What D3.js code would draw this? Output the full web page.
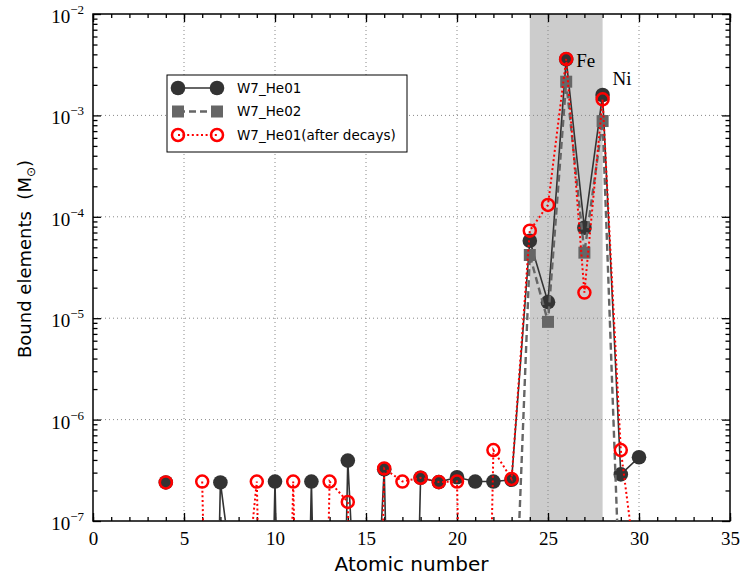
<!DOCTYPE html>
<html><head><meta charset="utf-8">
<script src="https://cdn.jsdelivr.net/npm/d3@7"></script>
<style>body{margin:0;background:#fff;} svg{display:block;}</style>
</head><body><svg id="chart" width="743" height="580"></svg>
<script>
// ---------------- data ----------------
const atomicNumbers = [4,5,6,7,8,9,10,11,12,13,14,15,16,17,18,19,20,21,22,23,24,25,26,27,28,29,30];
// W7_He01 (values far below 1e-7 are off-chart, null = no value)
const he01 = [2.4e-7, null, 1e-15, 2.4e-7, 1e-8, 1e-15, 2.45e-7, 1e-15, 2.45e-7, 1e-15, 3.94e-7, 1e-10, 3.24e-7, 1e-14,
              2.67e-7, 2.42e-7, 2.7e-7, 2.45e-7, 2.45e-7, 2.55e-7, 5.8e-5, 1.44e-5, 3.57e-3, 7.8e-5, 1.59e-3, 2.88e-7, 4.25e-7];
// W7_He02
const he02 = [null, null, null, null, null, null, null, null, null, null, null, null, null, null,
              null, null, null, null, null, 1.2e-9, 4.2e-5, 9.2e-6, 2.15e-3, 4.43e-5, 8.8e-4, 1e-8, null];
// W7_He01 (after decays)
const he01Decayed = [2.4e-7, null, 2.45e-7, 1e-15, 4e-9, 2.45e-7, 1e-15, 2.45e-7, 1e-15, 2.45e-7, 1.54e-7, 1e-15, 3.3e-7, 2.45e-7,
              2.67e-7, 2.42e-7, 2.45e-7, 1e-15, 5.0e-7, 2.6e-7, 7.3e-5, 1.31e-4, 3.6e-3, 1.79e-5, 1.44e-3, 5.0e-7, 2e-8];
const seriesNames = ["W7_He01", "W7_He02", "W7_He01(after decays)"];
const xTicks = [0,5,10,15,20,25,30,35];
const yExponents = [-7,-6,-5,-4,-3,-2];
const bandRange = [24, 28];
const peakLabels = ["Fe", "Ni"];
const peakZ = [26, 28];

// ---------------- layout ----------------
const svg = d3.select("#chart");
const L = 93, R = 730, T = 14, B = 521;
const x = d3.scaleLinear().domain([0, 35]).range([L, R]);
const y = d3.scaleLog().domain([1e-7, 1e-2]).range([B, T]);
const serif = "'Liberation Serif','DejaVu Serif',serif";
const sans = "'DejaVu Sans',sans-serif";

svg.append("defs").append("clipPath").attr("id", "clip")
  .append("rect").attr("x", L).attr("y", T).attr("width", R - L).attr("height", B - T);

// shaded band
svg.append("rect").attr("x", x(bandRange[0])).attr("y", T)
  .attr("width", x(bandRange[1]) - x(bandRange[0])).attr("height", B - T)
  .attr("fill", "#cccccc");

// grid
const grid = svg.append("g").attr("stroke", "#888").attr("stroke-width", 1).attr("stroke-dasharray", "1,3");
xTicks.filter(d => d > 0 && d < 35).forEach(d => {
  grid.append("line").attr("x1", x(d)).attr("x2", x(d)).attr("y1", T).attr("y2", B);
});
yExponents.filter(e => e > -7 && e < -2).forEach(e => {
  grid.append("line").attr("x1", L).attr("x2", R).attr("y1", y(Math.pow(10, e))).attr("y2", y(Math.pow(10, e)));
});

// axes ticks (inward, all four sides)
const minorX = d3.range(0, 36);
const decadeMinor = [];
yExponents.slice(0, -1).forEach(e => { for (let k = 2; k <= 9; k++) decadeMinor.push(k * Math.pow(10, e)); });
const majorY = yExponents.map(e => Math.pow(10, e));

function tickAxis(axisFn, scale, vals, size, transform) {
  const g = svg.append("g").attr("transform", transform)
    .call(axisFn(scale).tickValues(vals).tickSize(size).tickFormat(""));
  g.select(".domain").remove();
  g.selectAll(".tick line").attr("stroke", "#000").attr("stroke-width", 1.3);
  return g;
}
tickAxis(d3.axisBottom, x, minorX, -4, `translate(0,${B})`);
tickAxis(d3.axisBottom, x, xTicks, -8, `translate(0,${B})`);
tickAxis(d3.axisTop, x, minorX, -4, `translate(0,${T})`);
tickAxis(d3.axisTop, x, xTicks, -8, `translate(0,${T})`);
tickAxis(d3.axisLeft, y, decadeMinor, -4.5, `translate(${L},0)`);
tickAxis(d3.axisLeft, y, majorY, -8, `translate(${L},0)`);
tickAxis(d3.axisRight, y, decadeMinor, -4.5, `translate(${R},0)`);
tickAxis(d3.axisRight, y, majorY, -8, `translate(${R},0)`);

// x tick labels
const xl = svg.append("g").attr("transform", `translate(0,${B})`)
  .call(d3.axisBottom(x).tickValues(xTicks).tickSize(0).tickPadding(11).tickFormat(d => d));
xl.select(".domain").remove();
xl.selectAll("text").attr("font-family", serif).attr("font-size", 19).attr("fill", "#000");

// y tick labels
const yl = svg.append("g");
yExponents.forEach(e => {
  const t = yl.append("text").attr("x", L - 9).attr("y", y(Math.pow(10, e)) + 9)
    .attr("text-anchor", "end").attr("font-family", serif).attr("fill", "#000");
  t.append("tspan").attr("font-size", 19).text("10");
  t.append("tspan").attr("font-size", 13).attr("dy", -9).text("\u2212" + Math.abs(e));
});

// frame
svg.append("rect").attr("x", L).attr("y", T).attr("width", R - L).attr("height", B - T)
  .attr("fill", "none").attr("stroke", "#000").attr("stroke-width", 1.5);

// axis titles
svg.append("text").attr("x", (L + R) / 2).attr("y", 571).attr("text-anchor", "middle")
  .attr("font-family", sans).attr("font-size", 20).attr("fill", "#000").text("Atomic number");
const yt = svg.append("text").attr("transform", "translate(31,259) rotate(-90)").attr("text-anchor", "middle")
  .attr("font-family", sans).attr("font-size", 18).attr("fill", "#000");
yt.append("tspan").text("Bound elements\u00a0\u00a0(M");
yt.append("tspan").attr("font-size", 12).attr("dy", 4).text("\u2299");
yt.append("tspan").attr("dy", -4).text(")");

// ---------------- series ----------------
const styles = [
  {vals: he01, stroke: "#333", width: 1.6, dash: null, marker: "circle"},
  {vals: he02, stroke: "#666", width: 2.4, dash: "7,4", marker: "square"},
  {vals: he01Decayed, stroke: "#ff0000", width: 2, dash: "2,2.6", marker: "ring"}
];
const plot = svg.append("g").attr("clip-path", "url(#clip)");
const line = d3.line().defined(d => d.v !== null).x(d => x(d.z)).y(d => y(d.v));

function drawMarker(g, st, cx, cy) {
  if (st.marker === "circle") {
    g.append("circle").attr("cx", cx).attr("cy", cy).attr("r", 7.3).attr("fill", "#333");
  } else if (st.marker === "square") {
    g.append("rect").attr("x", cx - 6).attr("y", cy - 6).attr("width", 12).attr("height", 12).attr("fill", "#666");
  } else {
    g.append("circle").attr("cx", cx).attr("cy", cy).attr("r", 6).attr("fill", "none")
      .attr("stroke", "#ff0000").attr("stroke-width", 2.5);
  }
}

styles.forEach(st => {
  const pts = atomicNumbers.map((z, i) => ({z, v: st.vals[i]}));
  plot.append("path").datum(pts).attr("d", line).attr("fill", "none")
    .attr("stroke", st.stroke).attr("stroke-width", st.width)
    .attr("stroke-dasharray", st.dash);
  const mg = plot.append("g");
  pts.filter(d => d.v !== null).forEach(d => drawMarker(mg, st, x(d.z), y(d.v)));
});

// peak labels
peakLabels.forEach((lab, i) => {
  const z = peakZ[i];
  const v = he01[atomicNumbers.indexOf(z)];
  const dy = i === 0 ? 8 : -10;
  svg.append("text").attr("x", x(z) + 10).attr("y", y(v) + dy)
    .attr("font-family", serif).attr("font-size", 19).attr("fill", "#000").text(lab);
});

// ---------------- legend ----------------
const lg = svg.append("g");
lg.append("rect").attr("x", 167).attr("y", 75).attr("width", 240).attr("height", 77)
  .attr("fill", "#fff").attr("stroke", "#000").attr("stroke-width", 1);
styles.forEach((st, i) => {
  const ry = 88 + i * 23.5;
  lg.append("line").attr("x1", 178).attr("x2", 217).attr("y1", ry).attr("y2", ry)
    .attr("stroke", st.stroke).attr("stroke-width", st.width).attr("stroke-dasharray", st.dash);
  drawMarker(lg, st, 178, ry);
  drawMarker(lg, st, 217, ry);
  lg.append("text").attr("x", 237).attr("y", ry).attr("dy", "0.35em")
    .attr("font-family", sans).attr("font-size", 13.5).attr("fill", "#000").text(seriesNames[i]);
});
</script>
</body></html>
